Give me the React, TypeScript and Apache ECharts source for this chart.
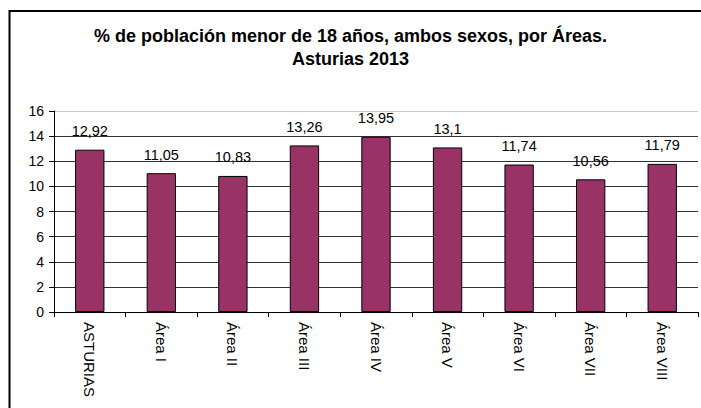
import React, { useEffect, useRef } from "react";
import * as echarts from "echarts";

const titleText = "% de población menor de 18 años, ambos sexos, por Áreas.\nAsturias 2013";
const categories = ["ASTURIAS", "Área I", "Área II", "Área III", "Área IV", "Área V", "Área VI", "Área VII", "Área VIII"];
const values = [12.92, 11.05, 10.83, 13.26, 13.95, 13.1, 11.74, 10.56, 11.79];
const yMin = 0;
const yMax = 16;
const yStep = 2;

const FONT = "Arial, 'Liberation Sans', Helvetica, sans-serif";

export default function App() {
  const ref = useRef<HTMLDivElement>(null);
  useEffect(() => {
    if (!ref.current) return;
    const chart = echarts.init(ref.current, null, { renderer: "svg" });
    chart.setOption({
      animation: false,
      backgroundColor: "#ffffff",
      textStyle: { fontFamily: FONT },
      title: {
        text: titleText,
        left: "center",
        top: 19,
        textStyle: {
          fontFamily: FONT,
          fontSize: 18,
          fontWeight: "bold",
          color: "#000",
          lineHeight: 23,
        },
      },
      graphic: [
        {
          type: "rect",
          shape: { x: 9.5, y: 11, width: 900, height: 900 },
          style: { fill: "none", stroke: "#000", lineWidth: 2 },
          silent: true,
        },
      ],
      grid: { left: 54, top: 111, right: 3, bottom: 96, containLabel: false },
      xAxis: {
        type: "category",
        data: categories,
        axisLine: { show: true, lineStyle: { color: "#000", width: 1 } },
        axisTick: { show: true, length: 5, alignWithLabel: false, lineStyle: { color: "#000" } },
        axisLabel: {
          rotate: -90,
          margin: 10,
          fontSize: 15,
          color: "#000",
          fontFamily: FONT,
          interval: 0,
        },
      },
      yAxis: {
        type: "value",
        min: yMin,
        max: yMax,
        interval: yStep,
        axisLine: { show: true, lineStyle: { color: "#000", width: 1 } },
        axisTick: { show: true, length: 5, lineStyle: { color: "#000" } },
        axisLabel: { fontSize: 14, color: "#000", margin: 10, fontFamily: FONT },
        splitLine: {
          show: true,
          lineStyle: {
            color: ["#000", "#333", "#333", "#333", "#333", "#333", "#333", "#333", "#c8c8c8"],
            width: 1,
          },
        },
      },
      series: [
        {
          type: "bar",
          data: values,
          barWidth: "41%",
          itemStyle: { color: "#993366", borderColor: "#000", borderWidth: 1 },
          label: {
            show: true,
            position: "top",
            distance: 11,
            fontSize: 14.5,
            color: "#000",
            fontFamily: FONT,
            formatter: (p: any) => String(p.value).replace(".", ","),
          },
        },
      ],
    });
    return () => chart.dispose();
  }, []);
  return (
    <div
      ref={ref}
      style={{ position: "absolute", left: 0, top: 0, width: 701, height: 408 }}
    />
  );
}
